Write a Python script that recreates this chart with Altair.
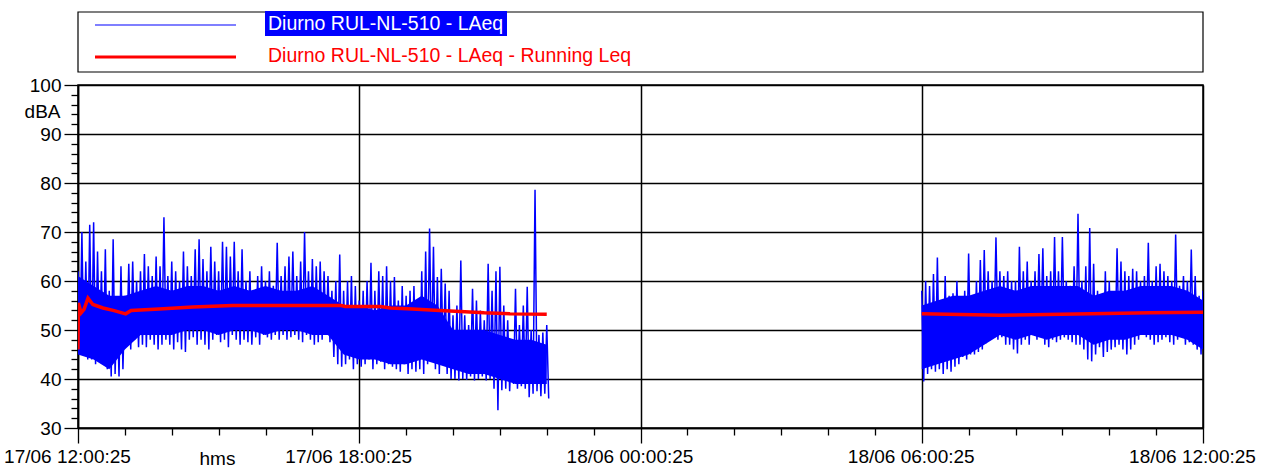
import altair as alt
import pandas as pd

# ---------------- data ----------------
# minutes since 17/06 12:00:25 ; one high / low pair every 5 minutes
STEP = 5
START1 = 0
HIGH1 = [62,70,64,71.5,72,66,62,66.5,58,68.5, 56,63,57,63.5,64,60,62,65.5,63,61,
         65,63,73,61,64,62,60,66,63,61, 66.5,68.5,64.5,62,67,64,62,68,67,65,
         68,62,66.5,60,62,58,61,63,60,62, 59,67.8,61,63,65,66,61,64,70,62,
         64.5,63,64,62,61,58,60,65.4,58,60, 61,59,56,58,60,63.7,58,62,61,63,
         60,60.8,56,59,57,58,59,56,62,66, 70.7,67,60.8,62.5,59.5,58,53,55,64.2,53,
         51,58.4,56,54,52,63.5,58,62,62.9,55, 52,48,58.4,51,55,58.8,50,78.6,49,49.5,
         51]
LOW1 = [46,45,44,44,43,46,44,42,40.5,41, 40.5,42,47,46,48,46.5,47,46.5,48,47,
        46,47,48,47,46,47.5,46,45.5,48,48.5, 47,48,47,46,48,49,47.5,48,46.5,49,
        48,47,48,47.5,47,48.5,47,49,48.5,48, 49,48,49,48,48.5,49,48,47.5,49,48,
        47,47.5,48,49,47.5,44.5,43,42.5,43,44, 42,43,42.5,43,44,42,43,43.5,42,43,
        42.5,42,41.5,43,41,42,41.5,42,41,43, 44,42,41,44,41,40,40,39.7,40,39.8,
        40.5,39.7,40,40.5,39.7,40,38,33.6,37.7,38, 37.5,39,38,38.5,38,36.3,37,37.5,36.5,37,
        36]
START2 = 1080
HIGH2 = [58,60,59,61.4,64.8,56,61,57,57.5,60, 55,58,65.6,57,60,64.3,66.3,62,60,68.9,
         62,61,62,60,60,67,62,64,60,62, 65.5,66.7,61,62,69,62,69,60,59,63,
         73.7,60,63,70.8,63.5,58,56,62,60,57, 66.7,64,62,61,62.5,62,60,61,67.8,60,
         63,63.5,62,61,60,69.5,59,61,60,66.4, 61,57,58]
LOW2 = [39.5,41,42,41.5,42,41,42,41.5,42.5,43, 44.5,44,45,45,45.5,46,47.3,48,49,48,
        48.5,47,47,46,45.2,47,48,47,49.5,48, 49,47,46.5,48,47.5,48,48.5,48,47.5,47,
        47,46,44,43.6,45,46.5,44.5,45.5,46,46.5, 47,46,45,46,47,48,49,48.5,48,47,
        47.5,48,48.5,47.5,47,48,51,47,47.5,47, 46,45,43.3]

# dense (solid) core of the LAeq trace, one low / high every 20 minutes
CORE_STEP = 20
CORE1_LO = [45,44,42,46,49,49,49,50,50,49,50,50,49,50,50,49,49,45,44,44,43,43,44,43,42,41,41,40,39,39,39]
CORE1_HI = [61,59,57,57,58,59,58,59,59,58,59,58,59,58,58,59,57,55,55,54,55,55,57,55,50,50,50,49,48,48,47]
CORE2_LO = [42,43,44,45,47,49,48,49,48,49,49,47,48,48,49,49,49,48,46]
CORE2_HI = [55,56,57,57,58,59,58,59,59,59,59,57,58,58,59,59,59,58,56]

RED1_T = [0,0.5,4,7.7,12.8,19,32,45,61,68,104,147,198,337,342,387,400,428,463,489,520,553,600]
RED1_V = [46,55.5,53.5,54.2,56.5,55.2,54.5,54,53.3,54,54.3,54.7,55,55,54.8,54.8,54.5,54.3,54.0,53.8,53.5,53.3,53.2]
RED2_T = [1080,1180,1297,1372,1440]
RED2_V = [53.3,53.0,53.3,53.5,53.6]

X_TICK_VALUES = [0, 360, 720, 1080, 1440]
X_TICK_LABELS = ["17/06 12:00:25", "17/06 18:00:25", "18/06 00:00:25",
                 "18/06 06:00:25", "18/06 12:00:25"]
LEGEND_LABELS = ["Diurno RUL-NL-510 - LAeq", "Diurno RUL-NL-510 - LAeq - Running Leq"]
X_TITLE = "hms"
Y_TITLE = "dBA"

# ---------------- tables ----------------
rows = []
for seg, start, hi, lo in [(1, START1, HIGH1, LOW1), (2, START2, HIGH2, LOW2)]:
    for k, (h, l) in enumerate(zip(hi, lo)):
        rows.append({"t": start + k * STEP, "v": h, "seg": seg})
        rows.append({"t": start + k * STEP + STEP / 2, "v": l, "seg": seg})
blue = pd.DataFrame(rows)

core_rows = []
for seg, start, lo, hi, end in [(1, START1, CORE1_LO, CORE1_HI, 601),
                                (2, START2, CORE2_LO, CORE2_HI, 1440)]:
    for k, (l, h) in enumerate(zip(lo, hi)):
        core_rows.append({"t": min(start + k * CORE_STEP, end), "lo": l, "hi": h, "seg": seg})
core = pd.DataFrame(core_rows)

red = pd.DataFrame(
    [{"t": t, "v": v, "seg": 1} for t, v in zip(RED1_T, RED1_V)]
    + [{"t": t, "v": v, "seg": 2} for t, v in zip(RED2_T, RED2_V)]
)

FONT = "Liberation Sans"
FS = 19
W, H = 1125, 343

x_minor = list(range(0, 1441, 60))
y_minor = list(range(30, 101, 2))

x_label_expr = "''"
for val, lab in zip(X_TICK_VALUES, X_TICK_LABELS):
    x_label_expr = f"datum.value == {val} ? '{lab}' : ({x_label_expr})"
y_label_expr = "datum.value % 10 == 0 ? datum.label : ''"

x_major_test = "datum.value % 360 == 0"
y_major_test = "datum.value % 10 == 0"

x_axis = alt.Axis(
    values=x_minor, labelExpr=x_label_expr, labelFont=FONT, labelFontSize=FS,
    labelColor="black", labelPadding=4, labelBaseline="top", labelOffset=-11,
    labelOverlap=False, labelFlush=False,
    tickColor="black", tickWidth=1.3,
    tickSize={"condition": {"test": x_major_test, "value": 15}, "value": 7},
    domainColor="black", domainWidth=1.5,
    grid=True, gridColor="black", gridWidth=1.5,
    gridOpacity={"condition": {"test": x_major_test, "value": 1}, "value": 0},
    title=X_TITLE, titleFont=FONT, titleFontSize=FS, titleFontWeight="normal",
    titleColor="black", titleX=139, titleY=36, titleAlign="center",
    titleBaseline="alphabetic", titleAnchor="start",
)
y_axis = alt.Axis(
    values=y_minor, labelExpr=y_label_expr, labelFont=FONT, labelFontSize=FS,
    labelColor="black", labelPadding=3, labelOverlap=False, labelFlush=False,
    labelBaseline="middle",
    tickColor="black", tickWidth=1.3,
    tickSize={"condition": {"test": y_major_test, "value": 14}, "value": 7},
    domainColor="black", domainWidth=1.5,
    grid=True, gridColor="black", gridWidth=1.5,
    gridOpacity={"condition": {"test": y_major_test, "value": 1}, "value": 0},
    title=Y_TITLE, titleFont=FONT, titleFontSize=FS, titleFontWeight="normal",
    titleColor="black", titleAngle=0, titleX=-18, titleY=32, titleAlign="right",
    titleBaseline="alphabetic", titleAnchor="start",
)

x_scale = alt.Scale(domain=[0, 1440], nice=False, zero=False)
y_scale = alt.Scale(domain=[30, 100], nice=False, zero=False)
x_enc = alt.X("t:Q", scale=x_scale, axis=x_axis)
y_enc = alt.Y("v:Q", scale=y_scale, axis=y_axis)

core_area = alt.Chart(core).mark_area(color="#0000FF", opacity=1, clip=True).encode(
    x=x_enc, y=alt.Y("lo:Q", scale=y_scale, axis=y_axis), y2="hi:Q", detail="seg:N"
)
blue_line = alt.Chart(blue).mark_line(color="#0000FF", strokeWidth=1.5, clip=True).encode(
    x=x_enc, y=y_enc, detail="seg:N", order="t:Q"
)
red_line = alt.Chart(red).mark_line(color="#FF0000", strokeWidth=3.5, clip=True).encode(
    x=x_enc, y=y_enc, detail="seg:N", order="t:Q"
)

one = pd.DataFrame({"a": [0]})
legend_box = alt.Chart(one).mark_rect(fill="white", stroke="black", strokeWidth=1.2).encode(
    x=alt.value(0), x2=alt.value(W), y=alt.value(-73), y2=alt.value(-13)
)
leg_blue = alt.Chart(one).mark_rule(color="#0000FF", strokeWidth=1.2).encode(
    x=alt.value(17), x2=alt.value(158), y=alt.value(-60)
)
leg_red = alt.Chart(one).mark_rule(color="#FF0000", strokeWidth=3).encode(
    x=alt.value(17), x2=alt.value(158), y=alt.value(-28)
)
leg_hl = alt.Chart(one).mark_rect(color="#0000FF").encode(
    x=alt.value(187), x2=alt.value(429), y=alt.value(-74), y2=alt.value(-49)
)
leg_t1 = alt.Chart(one).mark_text(align="left", baseline="alphabetic", font=FONT,
                                  fontSize=FS + 0.5, color="white").encode(
    x=alt.value(190), y=alt.value(-55), text=alt.value(LEGEND_LABELS[0])
)
leg_t2 = alt.Chart(one).mark_text(align="left", baseline="alphabetic", font=FONT,
                                  fontSize=FS + 0.5, color="#FF0000").encode(
    x=alt.value(190), y=alt.value(-23), text=alt.value(LEGEND_LABELS[1])
)

chart = alt.layer(
    core_area, blue_line, red_line, legend_box, leg_blue, leg_red, leg_hl, leg_t1, leg_t2
).properties(
    width=W, height=H,
    padding={"left": 78, "top": 85, "right": 62, "bottom": 44},
    autosize=alt.AutoSizeParams(type="none"),
    background="white",
).configure_view(stroke="black", strokeWidth=1.5)

chart.save("out.html", embed_options={"renderer": "svg", "actions": False})
